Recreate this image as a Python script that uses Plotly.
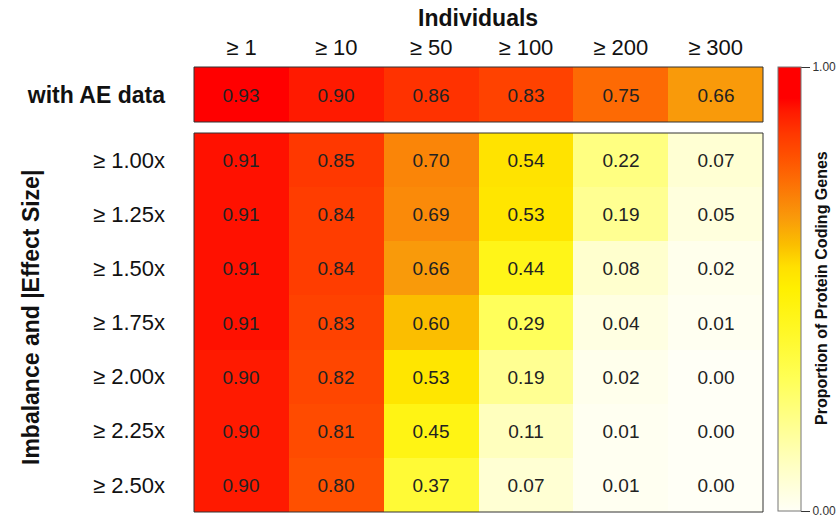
import plotly.graph_objects as go

col_labels = ["≥ 1", "≥ 10", "≥ 50", "≥ 100", "≥ 200", "≥ 300"]
ae_label = ["with AE data"]
ae_values = [[0.93, 0.90, 0.86, 0.83, 0.75, 0.66]]
row_labels = ["≥ 1.00x", "≥ 1.25x", "≥ 1.50x", "≥ 1.75x", "≥ 2.00x", "≥ 2.25x", "≥ 2.50x"]
effect_values = [
    [0.91, 0.85, 0.70, 0.54, 0.22, 0.07],
    [0.91, 0.84, 0.69, 0.53, 0.19, 0.05],
    [0.91, 0.84, 0.66, 0.44, 0.08, 0.02],
    [0.91, 0.83, 0.60, 0.29, 0.04, 0.01],
    [0.90, 0.82, 0.53, 0.19, 0.02, 0.00],
    [0.90, 0.81, 0.45, 0.11, 0.01, 0.00],
    [0.90, 0.80, 0.37, 0.07, 0.01, 0.00],
]

W, H = 837, 519
FONT = "Liberation Sans, Arial, sans-serif"

colorscale = [
    [0.00, "#FFFFF6"],
    [0.10, "#FFFFC4"],
    [0.20, "#FFFF8C"],
    [0.30, "#FFFF55"],
    [0.40, "#FFF828"],
    [0.50, "#FFF000"],
    [0.55, "#FFE000"],
    [0.60, "#FBBE00"],
    [0.66, "#F99A0A"],
    [0.70, "#FA8508"],
    [0.75, "#FD6A04"],
    [0.80, "#FF5000"],
    [0.85, "#FF3800"],
    [0.90, "#FF1A00"],
    [0.93, "#FF0000"],
    [1.00, "#FF0000"],
]

def px_x(x):
    return x / W

def px_y(y):
    return 1 - y / H

left, right = 194, 763
top_t, top_b = 67, 122
bot_t, bot_b = 133, 512

xs = list(range(len(col_labels)))

fig = go.Figure()

fig.add_trace(go.Heatmap(
    z=effect_values, x=xs, y=list(range(len(row_labels))),
    zmin=0, zmax=1, colorscale=colorscale,
    texttemplate="%{z:.2f}", textfont=dict(size=19, color="#222222", family=FONT),
    xaxis="x", yaxis="y",
    colorbar=dict(
        x=px_x(778), xanchor="left", xpad=0,
        y=px_y(67), yanchor="top", ypad=0, len=(511 - 67) / H, lenmode="fraction",
        thickness=23, thicknessmode="pixels",
        outlinecolor="#777777", outlinewidth=1,
        tickvals=[0, 1], ticktext=["0.00", "1.00"],
        ticks="outside", ticklen=9, tickcolor="#333333",
        tickfont=dict(size=12, color="#333333", family=FONT),
    ),
    hoverinfo="skip",
))

fig.add_trace(go.Heatmap(
    z=ae_values, x=xs, y=[0],
    zmin=0, zmax=1, colorscale=colorscale, showscale=False,
    texttemplate="%{z:.2f}", textfont=dict(size=19, color="#222222", family=FONT),
    xaxis="x2", yaxis="y2",
    hoverinfo="skip",
))

fig.update_layout(
    width=W, height=H,
    margin=dict(l=0, r=0, t=0, b=0, autoexpand=False),
    paper_bgcolor="white", plot_bgcolor="white",
    font=dict(family=FONT, color="#111111"),
    xaxis=dict(domain=[px_x(left), px_x(right)], anchor="y",
               showticklabels=False, showgrid=False, zeroline=False,
               range=[-0.5, 5.5], fixedrange=True),
    yaxis=dict(domain=[px_y(bot_b), px_y(bot_t)], anchor="x",
               tickvals=list(range(len(row_labels))), ticktext=row_labels,
               range=[len(row_labels) - 0.5, -0.5],
               showgrid=False, zeroline=False,
               ticklabelstandoff=28,
               tickfont=dict(size=22, color="#111111", family=FONT)),
    xaxis2=dict(domain=[px_x(left), px_x(right)], anchor="y2", side="top",
                tickvals=xs, ticktext=col_labels, range=[-0.5, 5.5],
                showgrid=False, zeroline=False, ticklabelstandoff=7,
                tickfont=dict(size=22, color="#111111", family=FONT)),
    yaxis2=dict(domain=[px_y(top_b), px_y(top_t)], anchor="x2",
                tickvals=[0], ticktext=["<b>" + ae_label[0] + "</b>"],
                range=[0.5, -0.5], showgrid=False, zeroline=False,
                ticklabelstandoff=28,
                tickfont=dict(size=23, color="#111111", family=FONT)),
    shapes=[
        dict(type="rect", xref="paper", yref="paper",
             x0=px_x(left), x1=px_x(right), y0=px_y(top_b), y1=px_y(top_t),
             line=dict(color="#333333", width=1)),
        dict(type="rect", xref="paper", yref="paper",
             x0=px_x(left), x1=px_x(right), y0=px_y(bot_b), y1=px_y(bot_t),
             line=dict(color="#333333", width=1)),
    ],
    annotations=[
        dict(text="<b>Individuals</b>", xref="paper", yref="paper",
             x=px_x(478), y=px_y(18), xanchor="center", yanchor="middle",
             showarrow=False, font=dict(size=23, color="#111111", family=FONT)),
        dict(text="<b>Imbalance and |Effect Size|</b>", xref="paper", yref="paper",
             x=px_x(31), y=px_y(318), xanchor="center", yanchor="middle",
             textangle=-90, showarrow=False,
             font=dict(size=23, color="#111111", family=FONT)),
        dict(text="<b>Proportion of Protein Coding Genes</b>", xref="paper", yref="paper",
             x=px_x(822), y=px_y(288), xanchor="center", yanchor="middle",
             textangle=-90, showarrow=False,
             font=dict(size=16, color="#111111", family=FONT)),
    ],
)

fig.write_html(
    "out.html",
    config={"displayModeBar": False},
    post_script="document.body.style.margin='0';document.body.style.overflow='hidden';",
)
